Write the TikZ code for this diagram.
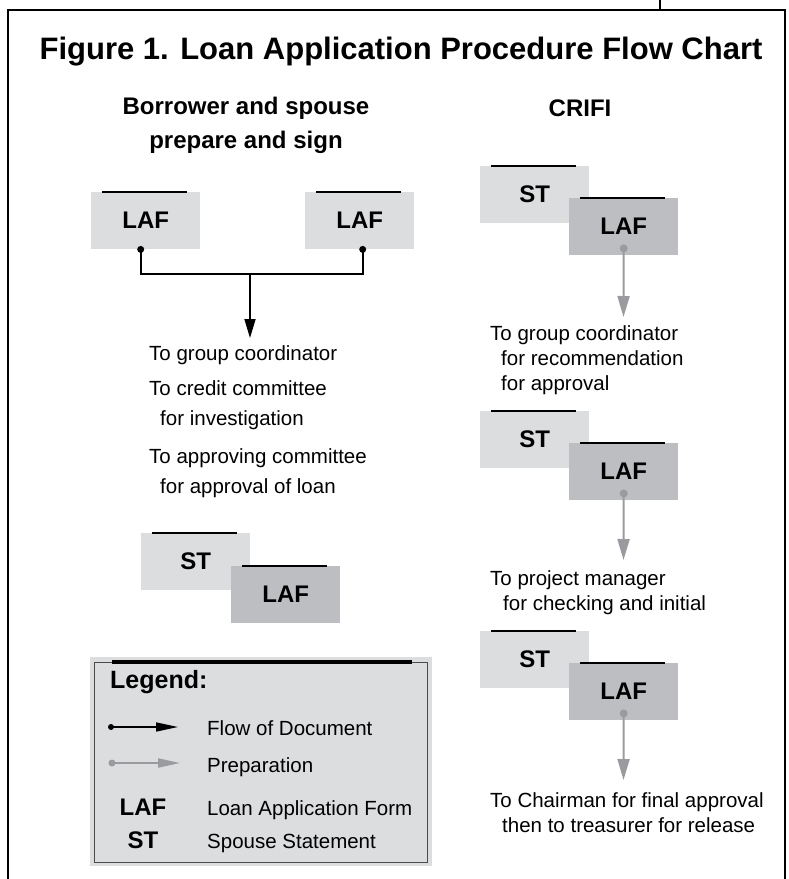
\documentclass[tikz,border=0pt]{standalone}
\usepackage{fontspec}
\setmainfont{Liberation Sans}
\usepackage{tikz}
\usetikzlibrary{arrows.meta,positioning,calc}
\definecolor{formlight}{HTML}{DCDDDF}
\definecolor{formdark}{HTML}{BDBEC1}
\definecolor{prepgray}{HTML}{9A9B9E}
\definecolor{legendbg}{HTML}{DCDDDF}
\definecolor{rulegray}{HTML}{4B4B4D}
\tikzset{
  stbox/.style={fill=formlight,minimum width=109pt,minimum height=57pt,inner sep=0pt,
    font=\fontsize{24}{28}\selectfont\bfseries,anchor=north west},
  lafbox/.style={stbox,fill=formdark},
  lafplain/.style={stbox,fill=formlight},
  steptext/.style={anchor=base west,inner sep=0pt,align=left,font=\fontsize{20.5}{25}\selectfont},
  headtext/.style={anchor=base,inner sep=0pt,align=center,font=\fontsize{24}{34}\selectfont\bfseries},
  flowline/.style={draw=black,line width=1.6pt},
  flowarrow/.style={-{Triangle[length=19pt,width=11pt]},flowline},
  preparrow/.style={-{Triangle[length=21pt,width=12pt]},draw=prepgray,line width=2pt},
  topbar/.style={draw=black,line width=1.6pt}
}
\newcommand{\formbar}[1]{\draw[topbar] ([xshift=11pt]#1.north west) -- ([xshift=-13pt]#1.north east);}
\begin{document}
\begin{tikzpicture}[x=1pt,y=-1pt]
  \useasboundingbox (0,0) rectangle (789,879);
  \draw[line width=1.2pt] (8,879) -- (8,10) -- (785,10) -- (785,879);
  \draw[line width=1.2pt] (660,0) -- (660,10);
  \node[anchor=base,inner sep=0pt,font=\fontsize{31}{36}\selectfont\bfseries] (title) at (401,59) {Figure 1. Loan Application Procedure Flow Chart};
  \node[headtext] (borrower) at (246,148) {Borrower and spouse\\prepare and sign};
  \node[headtext] (crifi) at (580,116) {CRIFI};
  % borrower side
  \node[lafplain] (lafa) at (91,192) {LAF};
  \node[lafplain] (lafb) at (305,192) {LAF};
  \formbar{lafa}
  \formbar{lafb}
  \coordinate (join) at (250,274);
  \coordinate (lend) at (250,338);
  \draw[flowline] ([xshift=-5pt]lafa.south) |- (join) -| ([xshift=3pt]lafb.south);
  \fill ([xshift=-5pt]lafa.south) circle (3.5pt);
  \fill ([xshift=3pt]lafb.south) circle (3.5pt);
  \draw[flowarrow] (join) -- (lend);
  \node[steptext] (grpa) at (149,360) {To group coordinator};
  \node[steptext,font=\fontsize{20.5}{30}\selectfont] (credit) at (149,425) {To credit committee\\\hspace{11pt}for investigation};
  \node[steptext,font=\fontsize{20.5}{30}\selectfont] (approve) at (149,493) {To approving committee\\\hspace{11pt}for approval of loan};
  \node[stbox] (stl) at (141,533) {ST};
  \node[lafbox] (lafl) at ($(stl.north west)+(90,33)$) {LAF};
  \formbar{stl}
  \formbar{lafl}
  % CRIFI side
  \node[stbox] (str1) at (480,166) {ST};
  \node[lafbox] (lafr1) at ($(str1.north west)+(89,32)$) {LAF};
  \formbar{str1}
  \formbar{lafr1}
  \coordinate (to1) at (623.5,317);
  \draw[preparrow] ([yshift=7pt]lafr1.south) -- (to1);
  \fill[prepgray] ([yshift=7pt]lafr1.south) circle (4pt);
  \node[steptext] (grpb) at (490,390) {To group coordinator\\\hspace{11pt}for recommendation\\\hspace{11pt}for approval};
  \node[stbox] (str2) at (480,411) {ST};
  \node[lafbox] (lafr2) at ($(str2.north west)+(89,32)$) {LAF};
  \formbar{str2}
  \formbar{lafr2}
  \coordinate (to2) at (623.5,560);
  \draw[preparrow] ([yshift=7pt]lafr2.south) -- (to2);
  \fill[prepgray] ([yshift=7pt]lafr2.south) circle (4pt);
  \node[steptext] (manager) at (490,610) {To project manager\\\hspace{13pt}for checking and initial};
  \node[stbox] (str3) at (480,631) {ST};
  \node[lafbox] (lafr3) at ($(str3.north west)+(89,32)$) {LAF};
  \formbar{str3}
  \formbar{lafr3}
  \coordinate (to3) at (623.5,780);
  \draw[preparrow] ([yshift=7pt]lafr3.south) -- (to3);
  \fill[prepgray] ([yshift=7pt]lafr3.south) circle (4pt);
  \node[steptext] (chairman) at (490,832) {To Chairman for final approval\\\hspace{12pt}then to treasurer for release};
  % legend
  \node[fill=legendbg,minimum width=342pt,minimum height=209pt,inner sep=0pt,anchor=north west] (legend) at (90,657) {};
  \draw[rulegray,line width=0.9pt] ([shift={(4pt,-5pt)}]legend.north west) rectangle ([shift={(-5pt,4pt)}]legend.south east);
  \draw[line width=3.5pt] (112,662) -- (412,662);
  \node[anchor=base west,inner sep=0pt,font=\fontsize{25}{30}\selectfont\bfseries] (legtitle) at (110,688) {Legend:};
  \coordinate (flowa) at (111,727);
  \coordinate (flowb) at (178,727);
  \draw[flowarrow,-{Triangle[length=22pt,width=9pt]}] (flowa) -- (flowb);
  \fill (flowa) circle (3pt);
  \coordinate (prepa) at (112,763);
  \coordinate (prepb) at (180,763);
  \draw[preparrow,-{Triangle[length=22pt,width=9pt]}] (prepa) -- (prepb);
  \fill[prepgray] (prepa) circle (3.5pt);
  \node[steptext] (legflow) at (207,735) {Flow of Document};
  \node[steptext] (legprep) at (207,772) {Preparation};
  \node[anchor=base,inner sep=0pt,font=\fontsize{24}{28}\selectfont\bfseries] (leglaf) at (143,815) {LAF};
  \node[anchor=base,inner sep=0pt,font=\fontsize{24}{28}\selectfont\bfseries] (legst) at (143,848) {ST};
  \node[steptext] (leglafd) at (207,815) {Loan Application Form};
  \node[steptext] (legstd) at (207,848) {Spouse Statement};
\end{tikzpicture}
\end{document}
